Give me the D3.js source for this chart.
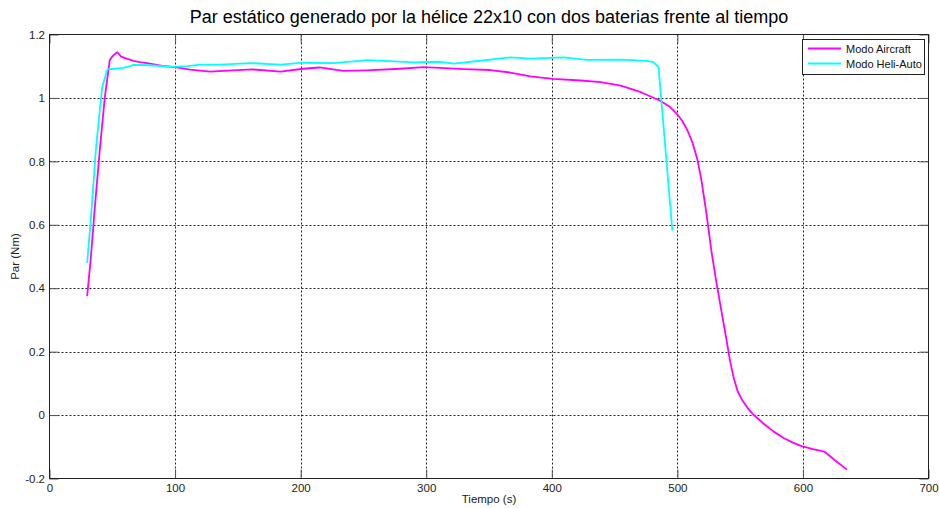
<!DOCTYPE html>
<html>
<head>
<meta charset="utf-8">
<script src="https://cdn.jsdelivr.net/npm/d3@7"></script>
<style>
  html, body { margin: 0; padding: 0; background: #fff; }
  svg { display: block; font-family: "Liberation Sans", Arial, sans-serif; }
</style>
</head>
<body>
<svg id="chart" width="939" height="508"></svg>
<script>
// Torque over time, 22x10 propeller with two batteries
const titleText = "Par estático generado por la hélice 22x10 con dos baterias frente al tiempo";
const xLabel = "Tiempo (s)";
const yLabel = "Par (Nm)";
const seriesNames = ["Modo Aircraft", "Modo Heli-Auto"];
const seriesColors = ["#ff00ff", "#00ffff"];

const xTicks = [0, 100, 200, 300, 400, 500, 600, 700];
const yTicks = [-0.2, 0, 0.2, 0.4, 0.6, 0.8, 1, 1.2];

// Modo Aircraft
const aircraftTime = [30, 33, 36, 40, 44, 48, 51, 54, 57, 62, 67, 72, 80, 90, 100, 112, 128, 146, 162, 184,
  202, 215, 234, 253, 279, 298, 311, 330, 351, 367, 383, 401, 423, 439, 455, 471, 486, 494, 500, 504,
  508, 512, 516, 519, 523, 527, 531, 535, 539, 542, 545, 548, 552, 556, 560, 565, 569, 577, 585, 592,
  599, 608, 617, 625, 635];
const aircraftTorque = [0.375, 0.5, 0.65, 0.834, 1.0, 1.12, 1.135, 1.144, 1.13, 1.123, 1.117, 1.113, 1.108, 1.101, 1.097, 1.089, 1.083, 1.087, 1.090, 1.083,
  1.092, 1.096, 1.085, 1.087, 1.092, 1.097, 1.095, 1.091, 1.088, 1.08, 1.068, 1.06, 1.055, 1.05, 1.039, 1.018, 0.992, 0.972, 0.948, 0.927,
  0.898, 0.86, 0.805, 0.745, 0.64, 0.52, 0.42, 0.33, 0.24, 0.17, 0.115, 0.075, 0.045, 0.022, 0.004, -0.014, -0.028, -0.053, -0.073, -0.087,
  -0.098, -0.107, -0.115, -0.141, -0.172];

// Modo Heli-Auto
const heliTime = [30, 33, 37, 40, 42, 46, 52, 59, 67, 80, 98, 110, 120, 136, 160, 184, 202, 226, 253, 271,
  290, 311, 322, 345, 367, 383, 409, 428, 455, 475, 481, 485, 496];
const heliTorque = [0.48, 0.62, 0.84, 0.96, 1.034, 1.09, 1.092, 1.095, 1.104, 1.103, 1.098, 1.1, 1.105, 1.105, 1.11, 1.105, 1.111, 1.11, 1.119, 1.116,
  1.112, 1.114, 1.108, 1.118, 1.128, 1.124, 1.128, 1.12, 1.121, 1.117, 1.113, 1.097, 0.582];

const svg = d3.select("#chart");
const plotLeft = 49.5, plotRight = 928.5, plotTop = 34.5, plotBottom = 478.5;

const x = d3.scaleLinear().domain([0, 700]).range([plotLeft, plotRight]);
const y = d3.scaleLinear().domain([-0.2, 1.2]).range([plotBottom, plotTop]);

// Grid
const grid = svg.append("g").attr("stroke", "#222").attr("stroke-width", 1).attr("stroke-dasharray", "2,2");
grid.selectAll("line.vx").data(xTicks.slice(1, -1)).join("line")
  .attr("x1", d => Math.round(x(d)) + 0.5).attr("x2", d => Math.round(x(d)) + 0.5)
  .attr("y1", plotTop).attr("y2", plotBottom);
grid.selectAll("line.hy").data(yTicks.slice(1, -1)).join("line")
  .attr("y1", d => Math.round(y(d)) + 0.5).attr("y2", d => Math.round(y(d)) + 0.5)
  .attr("x1", plotLeft).attr("x2", plotRight);

// Axes (ticks inward on all four sides)
const tickLen = 9;
const fmtY = d => String(+d.toFixed(1));
const axB = d3.axisBottom(x).tickValues(xTicks).tickSizeInner(-tickLen).tickSizeOuter(0).tickPadding(5);
const axT = d3.axisTop(x).tickValues(xTicks).tickSizeInner(-tickLen).tickSizeOuter(0).tickFormat("");
const axL = d3.axisLeft(y).tickValues(yTicks).tickSizeInner(-tickLen).tickSizeOuter(0).tickPadding(4.5).tickFormat(fmtY);
const axR = d3.axisRight(y).tickValues(yTicks).tickSizeInner(-tickLen).tickSizeOuter(0).tickFormat("");

function styleAxis(g) {
  g.select(".domain").remove();
  g.selectAll(".tick line").attr("stroke", "#555");
  g.selectAll("text").attr("fill", "#222").attr("font-size", 11.5)
    .attr("font-family", "'Liberation Sans', Arial, sans-serif");
}
svg.append("g").attr("transform", `translate(0,${plotBottom})`).call(axB).call(styleAxis);
svg.append("g").attr("transform", `translate(0,${plotTop})`).call(axT).call(styleAxis);
svg.append("g").attr("transform", `translate(${plotLeft},0)`).call(axL).call(styleAxis);
svg.append("g").attr("transform", `translate(${plotRight},0)`).call(axR).call(styleAxis);

// Box
svg.append("rect").attr("x", plotLeft).attr("y", plotTop)
  .attr("width", plotRight - plotLeft).attr("height", plotBottom - plotTop)
  .attr("fill", "none").attr("stroke", "#222").attr("stroke-width", 1);

// Series lines
const line = d3.line().x(d => x(d[0])).y(d => y(d[1]));
const series = [
  { name: seriesNames[0], color: seriesColors[0], pts: d3.zip(aircraftTime, aircraftTorque) },
  { name: seriesNames[1], color: seriesColors[1], pts: d3.zip(heliTime, heliTorque) }
];
svg.append("g").selectAll("path").data(series).join("path")
  .attr("d", d => line(d.pts))
  .attr("fill", "none").attr("stroke", d => d.color).attr("stroke-width", 1.8)
  .attr("stroke-linejoin", "round");

// Title and axis labels
svg.append("text").attr("x", (plotLeft + plotRight) / 2).attr("y", 23).attr("text-anchor", "middle")
  .attr("font-size", 18).attr("fill", "#000").text(titleText);
svg.append("text").attr("x", (plotLeft + plotRight) / 2).attr("y", 503).attr("text-anchor", "middle")
  .attr("font-size", 11.5).attr("fill", "#222").text(xLabel);
svg.append("text").attr("transform", `translate(19,${(plotTop + plotBottom) / 2}) rotate(-90)`)
  .attr("text-anchor", "middle").attr("font-size", 11.5).attr("fill", "#222").text(yLabel);

// Legend
const lg = svg.append("g").attr("transform", "translate(802,39)");
lg.append("rect").attr("x", 0.5).attr("y", 0.5).attr("width", 122).attr("height", 35)
  .attr("fill", "#fff").attr("stroke", "#222");
const items = lg.selectAll("g.item").data(series).join("g")
  .attr("transform", (d, i) => `translate(0,${9.5 + i * 15})`);
items.append("line").attr("x1", 6).attr("x2", 39).attr("y1", 0).attr("y2", 0)
  .attr("stroke", d => d.color).attr("stroke-width", 1.8);
items.append("text").attr("x", 44).attr("y", 4).attr("font-size", 11).attr("fill", "#111")
  .text(d => d.name);
</script>
</body>
</html>
